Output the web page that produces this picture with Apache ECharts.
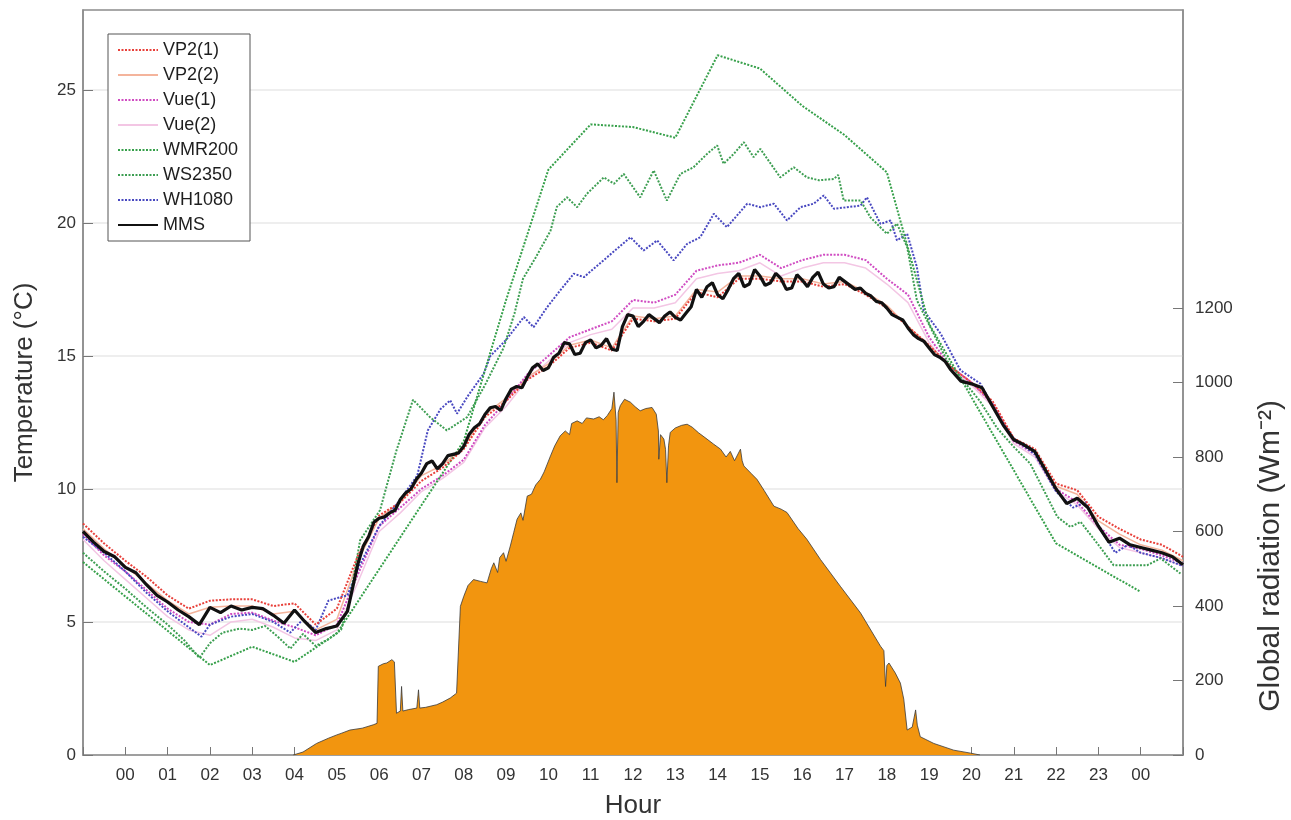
<!DOCTYPE html>
<html>
<head>
<meta charset="utf-8">
<script src="https://cdn.jsdelivr.net/npm/echarts@6/dist/echarts.min.js"></script>
<style>
  html, body { margin: 0; padding: 0; background: #fff; }
  #chart { width: 1291px; height: 820px; }
</style>
</head>
<body>
<div id="chart"></div>
<script>
// ---------- DATA ----------
// MMS reference station (night, day, evening pieces)
const mmsNightHours = [-1,-0.75,-0.5,-0.25,0,0.25,0.5,0.75,1,1.25,1.5,1.75,2,2.25,2.5,2.75,3,3.25,3.5,3.75,4,4.25,4.5,4.75,5,5.25];
const mmsNightTemp  = [8.40,8.00,7.65,7.45,7.05,6.85,6.40,6.00,5.75,5.45,5.20,4.90,5.55,5.35,5.60,5.45,5.55,5.50,5.25,4.95,5.45,5.00,4.60,4.75,4.85,5.40];
const mmsDayHours = [5.5,5.625,5.75,5.875,6,6.125,6.25,6.375,6.5,6.625,6.75,6.875,7,7.125,7.25,7.375,7.5,7.625,7.75,7.875,8,8.125,8.25,8.375,8.5,8.625,8.75,8.875,9,9.125,9.25,9.375,9.5,9.625,9.75,9.875,10,10.125,10.25,10.375,10.5,10.625,10.75,10.875,11,11.125,11.25,11.375,11.5,11.625,11.75,11.875,12,12.125,12.25,12.375,12.5,12.625,12.75,12.875,13,13.125,13.25,13.375,13.5,13.625,13.75,13.875,14,14.125,14.25,14.375,14.5,14.625,14.75,14.875,15,15.125,15.25,15.375,15.5,15.625,15.75,15.875,16,16.125,16.25,16.375,16.5,16.625,16.75,16.875,17,17.125,17.25,17.375,17.5,17.625,17.75,17.875,18,18.125,18.25,18.375,18.5,18.625,18.75,18.875,19,19.125,19.25,19.375,19.5];
const mmsDayTemp  = [7.20,7.85,8.20,8.75,8.90,8.95,9.10,9.20,9.60,9.85,10.00,10.35,10.60,10.95,11.05,10.75,10.95,11.25,11.30,11.35,11.60,12.05,12.30,12.45,12.80,13.05,13.10,12.95,13.40,13.75,13.85,13.80,14.20,14.55,14.70,14.45,14.55,14.95,15.10,15.50,15.45,15.05,15.10,15.50,15.60,15.30,15.40,15.65,15.25,15.20,16.10,16.55,16.50,16.10,16.30,16.55,16.40,16.25,16.50,16.65,16.45,16.35,16.60,16.85,17.50,17.20,17.60,17.75,17.30,17.15,17.50,17.90,18.10,17.60,17.70,18.25,18.00,17.65,17.75,18.10,17.90,17.50,17.55,18.05,17.85,17.60,17.95,18.15,17.70,17.55,17.60,17.95,17.80,17.65,17.50,17.55,17.35,17.25,17.05,17.00,16.80,16.55,16.45,16.35,16.05,15.80,15.65,15.55,15.30,15.05,14.95,14.80,14.50];
const mmsEveHours = [19.75,20,20.25,20.5,20.75,21,21.25,21.5,21.75,22,22.25,22.5,22.75,23,23.25,23.5,23.75,24,24.25,24.5,24.75,25];
const mmsEveTemp  = [14.05,13.95,13.80,13.10,12.40,11.85,11.65,11.40,10.70,10.00,9.45,9.65,9.30,8.60,8.00,8.15,7.90,7.80,7.70,7.60,7.45,7.15];

const halfHours = [-1,-0.5,0,0.5,1,1.5,2,2.5,3,3.5,4,4.5,5,5.5,6,6.5,7,7.5,8,8.5,9,9.5,10,10.5,11,11.5,12,12.5,13,13.5,14,14.5,15,15.5,16,16.5,17,17.5,18,18.5,19,19.5,20,20.5,21,21.5,22,22.5,23,23.5,24,24.5,25];
const vp21Temp = [8.7,7.95,7.3,6.7,6.0,5.5,5.8,5.85,5.85,5.6,5.7,4.9,5.5,7.5,9.0,9.5,10.3,10.8,11.5,12.7,13.3,14.1,14.6,15.3,15.5,15.2,16.4,16.3,16.4,17.4,17.2,17.9,17.9,17.8,17.8,17.6,17.7,17.3,16.8,16.1,15.4,14.6,14.0,13.3,11.9,11.5,10.2,9.95,8.95,8.5,8.1,7.9,7.45];
const vp22Temp = [8.5,7.75,7.1,6.45,5.8,5.3,5.55,5.6,5.6,5.3,5.4,4.7,5.1,7.3,8.9,9.5,10.5,10.9,11.6,12.8,13.4,14.2,14.7,15.4,15.6,15.3,16.5,16.4,16.5,17.5,17.4,18.0,18.0,17.9,17.9,17.7,17.8,17.4,16.9,16.1,15.4,14.6,14.0,13.2,11.9,11.4,10.1,9.8,8.8,8.3,7.9,7.7,7.3];
const vue1Temp = [8.3,7.5,6.9,6.2,5.5,5.0,4.9,5.3,5.35,5.05,4.8,4.5,4.9,6.8,8.6,9.3,10.0,10.5,11.1,12.4,13.3,14.3,15.0,15.7,16.0,16.3,17.1,17.0,17.3,18.2,18.4,18.5,18.8,18.3,18.6,18.8,18.8,18.6,17.9,17.3,15.7,14.6,14.0,13.2,11.8,11.3,10.0,9.5,8.6,7.9,7.75,7.5,7.2];
const vue2Temp = [8.1,7.3,6.6,5.9,5.2,4.7,4.5,5.0,5.1,4.8,4.4,4.3,4.7,6.5,8.4,9.1,9.9,10.4,11.0,12.3,13.1,14.1,14.8,15.5,15.8,16.0,16.8,16.8,17.0,17.9,18.1,18.2,18.5,18.0,18.3,18.5,18.5,18.3,17.7,17.0,15.5,14.5,13.9,13.1,11.7,11.2,9.9,9.4,8.5,7.8,7.6,7.4,7.1];

const wmr200Hours = [-1,2,3,4,5,8,9,10,11,12,13,14,15,16,17,18,19,22,24];
const wmr200Temp = [7.25,3.38,4.07,3.5,4.57,11.8,17.1,22.0,23.7,23.6,23.2,26.3,25.8,24.4,23.3,21.9,16.2,7.95,6.13];

const ws2350Hours = [-1,-0.5,0,0.5,1,1.4,1.75,2,2.3,2.7,3,3.3,3.6,3.9,4.2,4.5,4.8,5.1,5.3,5.55,6.02,6.4,6.8,7.2,7.6,8.08,8.5,8.94,9.2,9.4,9.7,10.05,10.2,10.44,10.68,10.91,11.31,11.55,11.78,12.17,12.49,12.8,13.12,13.43,13.75,13.99,14.14,14.38,14.62,14.85,15.01,15.48,15.8,16.11,16.4,16.75,16.85,16.98,17.38,17.61,18,18.24,18.48,18.71,18.95,19.42,19.74,20.2,20.6,21,21.39,22.03,22.34,22.58,23,23.36,23.68,24.15,24.47,24.94];
const ws2350Temp = [7.6,6.9,6.25,5.55,4.9,4.3,3.65,4.2,4.6,4.75,4.7,4.85,4.45,4.0,4.55,4.1,4.35,4.7,5.8,8.07,9.2,11.4,13.35,12.7,12.2,12.7,13.9,15.3,16.6,17.9,18.7,19.7,20.6,20.96,20.59,21.09,21.71,21.47,21.84,20.96,21.97,20.84,21.84,22.09,22.59,22.91,22.22,22.59,23.03,22.47,22.78,21.71,22.09,21.71,21.6,21.65,21.8,20.84,20.84,20.21,19.59,19.97,19.09,17.09,16.33,14.83,14.2,13.3,12.3,11.58,10.95,8.95,8.57,8.76,7.9,7.13,7.13,7.13,7.39,6.82];

const wh1080Hours = [-1,-0.5,0,0.5,1,1.5,1.8,2,2.5,3,3.5,3.9,4.2,4.5,4.8,5,5.25,5.5,6,6.5,6.9,7.15,7.45,7.68,7.84,8.1,8.47,8.63,9,9.42,9.65,9.97,10.3,10.6,10.84,11.39,11.94,12.25,12.57,12.96,13.28,13.59,13.91,14.22,14.7,15.01,15.33,15.64,15.96,16.27,16.51,16.75,17.38,17.53,17.85,18.09,18.24,18.48,18.71,18.87,19.27,19.74,20.21,20.69,21,21.5,22,22.4,22.7,23,23.4,23.7,24,24.5,25];
const wh1080Temp = [8.2,7.6,6.9,6.1,5.4,4.8,4.45,4.9,5.2,5.3,5.0,4.6,5.1,4.7,5.8,5.9,6.0,7.0,8.6,9.6,10.5,12.2,13.0,13.33,12.83,13.5,14.33,15.0,15.6,16.46,16.08,16.83,17.5,18.09,17.96,18.71,19.46,18.96,19.34,18.59,19.21,19.46,20.34,19.84,20.72,20.59,20.72,20.09,20.59,20.72,21.03,20.53,20.65,20.96,19.96,20.09,19.34,19.59,18.34,16.71,15.84,14.46,13.96,12.58,11.9,11.3,9.9,9.3,9.5,8.6,7.6,7.9,7.6,7.4,7.1];

const radHours = [3.97,4.2,4.52,4.8,5.0,5.1,5.31,5.6,5.86,5.95,5.98,6.1,6.18,6.3,6.36,6.41,6.5,6.53,6.56,6.7,6.89,6.93,6.96,7.1,7.36,7.5,7.68,7.83,7.92,8.0,8.1,8.23,8.4,8.55,8.65,8.71,8.8,8.85,8.94,9.0,9.1,9.18,9.26,9.35,9.4,9.5,9.6,9.7,9.81,9.9,10.05,10.15,10.28,10.4,10.5,10.55,10.68,10.8,10.9,11.07,11.2,11.3,11.39,11.5,11.55,11.6,11.62,11.65,11.7,11.8,11.94,12.05,12.17,12.3,12.45,12.55,12.6,12.61,12.65,12.73,12.77,12.8,12.84,12.88,13.0,13.15,13.28,13.4,13.55,13.75,13.9,14.07,14.2,14.3,14.4,14.54,14.58,14.62,14.8,14.93,15.1,15.33,15.5,15.64,15.9,16.11,16.43,16.9,17.38,17.85,17.93,17.97,18.0,18.05,18.2,18.32,18.4,18.48,18.6,18.68,18.72,18.79,19.11,19.58,19.98,20.2];
const radValues = [0,8,31,45,54,58,67,72,81,85,238,245,247,256,250,112,118,184,118,122,126,175,126,128,135,142,153,166,399,426,455,471,466,462,500,516,490,530,543,520,561,597,633,650,630,695,700,725,740,760,803,830,857,870,860,890,897,890,905,902,908,900,911,930,974,900,731,920,938,955,947,935,924,930,933,915,870,794,860,848,820,731,830,866,878,885,888,880,865,848,835,821,800,815,790,821,790,776,755,740,710,668,660,651,608,579,525,453,381,292,280,184,240,247,220,193,150,67,75,121,80,49,31,13,5,0];

const hourTickLabels = ['00','01','02','03','04','05','06','07','08','09','10','11','12','13','14','15','16','17','18','19','20','21','22','23','00'];
const tempTicks = [0,5,10,15,20,25];
const radTicks = [0,200,400,600,800,1000,1200];

// ---------- CHART ----------
function pairs(xs, ys) { return xs.map((x, i) => [x, ys[i]]); }
const FONT = 'Liberation Sans, Arial, sans-serif';
const dotted = [2, 1.5];

const chart = echarts.init(document.getElementById('chart'), null, { renderer: 'canvas' });

function lineSeries(name, xs, ys, color, width, type, z) {
  return {
    name: name, type: 'line', xAxisIndex: 0, yAxisIndex: 0,
    data: pairs(xs, ys), symbol: 'none', showSymbol: false, smooth: false,
    lineStyle: { color: color, width: width, type: type },
    itemStyle: { color: color },
    z: z, animation: false
  };
}

const mmsHours = mmsNightHours.concat(mmsDayHours, mmsEveHours);
const mmsTemp = mmsNightTemp.concat(mmsDayTemp, mmsEveTemp);

const option = {
  animation: false,
  backgroundColor: '#ffffff',
  grid: { left: 83, right: 108, top: 10, bottom: 65, containLabel: false, outerBoundsMode: 'none',
          show: true, borderColor: '#8c8c8c', borderWidth: 1.5, backgroundColor: 'transparent' },
  legend: {
    orient: 'vertical', left: 108, top: 34,
    data: ['VP2(1)','VP2(2)','Vue(1)','Vue(2)','WMR200','WS2350','WH1080','MMS'],
    itemWidth: 40, itemHeight: 14, itemGap: 7,
    padding: [7, 12, 7, 9],
    backgroundColor: '#ffffff',
    borderColor: '#555555', borderWidth: 1,
    itemStyle: { opacity: 0 },
    textStyle: { fontFamily: FONT, fontSize: 18, color: '#1e1e1e', lineHeight: 18 },
    selectedMode: false
  },
  xAxis: {
    type: 'value', min: -1, max: 25, interval: 1,
    axisLine: { show: true, onZero: false, lineStyle: { color: '#8c8c8c', width: 1.5 } },
    axisTick: { show: true, inside: true, length: 8, lineStyle: { color: '#777', width: 1 } },
    axisLabel: {
      fontFamily: FONT, fontSize: 17, color: '#333', margin: 12,
      formatter: function (v) { return (v >= 0 && v <= 24) ? hourTickLabels[Math.round(v)] : ''; }
    },
    splitLine: { show: false },
    name: 'Hour', nameLocation: 'middle', nameGap: 38,
    nameTextStyle: { fontFamily: FONT, fontSize: 26, color: '#333' }
  },
  yAxis: [
    {
      type: 'value', min: 0, max: 28, interval: 5, position: 'left',
      axisLine: { show: true, onZero: false, lineStyle: { color: '#8c8c8c', width: 1.5 } },
      axisTick: { show: true, inside: true, length: 10, lineStyle: { color: '#777', width: 1 }, customValues: tempTicks },
      axisLabel: {
        fontFamily: FONT, fontSize: 17, color: '#333', margin: 7, customValues: tempTicks,
        formatter: function (v) { return String(v); }
      },
      splitLine: { show: true, lineStyle: { color: '#e8e8e8', width: 1.5 } },
      name: 'Temperature (°C)', nameLocation: 'middle', nameGap: 45,
      nameTextStyle: { fontFamily: FONT, fontSize: 26, color: '#333' }
    },
    {
      type: 'value', min: 0, max: 2000, interval: 200, position: 'right',
      axisLine: { show: true, onZero: false, lineStyle: { color: '#8c8c8c', width: 1.5 } },
      axisTick: { show: true, inside: true, length: 10, lineStyle: { color: '#777', width: 1 }, customValues: radTicks },
      axisLabel: { fontFamily: FONT, fontSize: 17, color: '#333', margin: 12, customValues: radTicks,
        formatter: function (v) { return String(v); } },
      splitLine: { show: false }
    }
  ],
  graphic: [
    {
      type: 'text', x: 1271, y: 556, rotation: Math.PI / 2,
      style: { text: 'Global radiation (Wm⁻²)', fontFamily: FONT, fontSize: 30, fill: '#333', align: 'center', verticalAlign: 'middle' }
    }
  ],
  series: [
    {
      name: 'Global radiation', type: 'line', xAxisIndex: 0, yAxisIndex: 1,
      data: pairs(radHours, radValues), symbol: 'none', showSymbol: false,
      lineStyle: { color: '#3a3a3a', width: 0.8 },
      areaStyle: { color: '#f2950f', opacity: 1 },
      itemStyle: { color: '#f2950f' },
      z: 1, animation: false
    },
    lineSeries('Vue(2)', halfHours, vue2Temp, '#f3c6e4', 1.5, 'solid', 2),
    lineSeries('VP2(2)', halfHours, vp22Temp, '#f4b49c', 1.5, 'solid', 2),
    lineSeries('Vue(1)', halfHours, vue1Temp, '#d04cc2', 2, dotted, 3),
    lineSeries('WH1080', wh1080Hours, wh1080Temp, '#4848c0', 2, dotted, 3),
    lineSeries('WMR200', wmr200Hours, wmr200Temp, '#36a04a', 2, dotted, 3),
    lineSeries('WS2350', ws2350Hours, ws2350Temp, '#3d9e52', 2, dotted, 3),
    lineSeries('VP2(1)', halfHours, vp21Temp, '#e8403a', 2, dotted, 4),
    lineSeries('MMS', mmsHours, mmsTemp, '#111111', 3.2, 'solid', 5)
  ]
};
chart.setOption(option);
</script>
</body>
</html>
